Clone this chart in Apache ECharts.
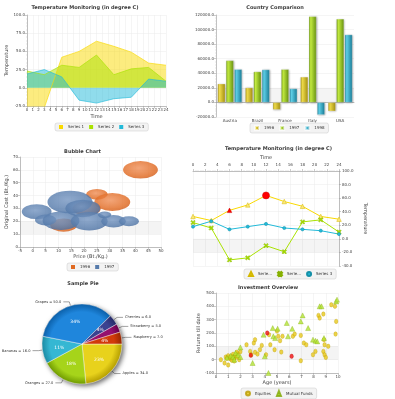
<!DOCTYPE html>
<html><head><meta charset="utf-8">
<script src="https://cdn.jsdelivr.net/npm/echarts@6/dist/echarts.min.js"></script>
<style>html,body{margin:0;padding:0;background:#fff;width:395px;height:399px;overflow:hidden}
.c{position:absolute;left:0;top:0;width:395px;height:399px}</style>
</head><body>
<div id="p1" class="c"></div><div id="p2" class="c"></div><div id="p3" class="c"></div>
<div id="p4" class="c"></div><div id="p5" class="c"></div><div id="p6" class="c"></div>
<script>
// ---------- DATA ----------
// Panel 1: area chart
const areaNames = ['Series 1','Series 2','Series 3'];
const areaX = [0,3,6,9,12,15,18,21,24];
const areaS1 = [-30,-27,42,50,64,57,49,34,31];
const areaS2 = [23,18,31,28,45,18,26,28,9];
const areaS3 = [19,25,15,-17,-21,-15,-13,12,9];
// Panel 2: bar chart
const countries = ['Austria','Brazil','France','Italy','USA'];
const barYears = ['1996','1997','1998'];
const bar1996 = [25600,20200,-9900,35000,-12000];
const bar1997 = [57500,42200,45400,118000,114600];
const bar1998 = [45400,45000,18900,-17000,93000];
// Panel 3: bubble chart [price, cost, radius]
const bubbleYears = ['1996','1997'];
const bubble1996 = [[42,60,6.8],[25,41,4.2],[31,35,7],[21,30,5.5],[12,17,5.2]];
const bubble1997 = [[1.5,27.5,5.8],[5,21,4.2],[14.5,35,8.8],[19.5,30,6.8],[11,20.5,7.2],[22,20,7.2],[28,25,2.6],[31.5,20,4.8],[37.5,20,3.9]];
// Panel 4: line chart
const lineNames = ['Series 1','Series 2','Series 3'];
const lineX = [0,3,6,9,12,15,18,21,24];
const lineS1 = [33,27,42,50,64,55,48,33,29];
const lineS2 = [24,16,-31,-28,-10,-19,25,28,10];
const lineS3 = [18,26,14,18,22,16,14,12,7];
// Panel 5: pie
const pieNames = ['Apples','Oranges','Bananas','Grapes','Cherries','Strawberry','Raspberry'];
const pieValues = [34,27,16,50,6,5,7];
// Panel 6: scatter
const equities = [[0.4,0],[0.7,-25],[0.8,20],[0.9,10],[1.0,-40],[1.0,30],[1.1,15],[1.2,5],[1.3,25],[1.4,40],[1.5,10],[1.5,-10],[1.6,30],[1.7,20],[1.8,45],[1.9,0],[2.0,60],[1.3,-5],[1.7,55],[2.5,112],[2.8,62],[2.9,37],[3.1,125],[3.2,150],[3.2,55],[3.4,42],[3.6,75],[3.75,107],[4.1,37],[4.35,187],[4.45,112],[4.8,75],[5.0,215],[5.1,175],[5.25,142],[5.35,57],[5.45,175],[6.3,175],[6.45,192],[6.95,182],[6.95,-8],[7.2,125],[7.4,112],[7.95,37],[8.15,62],[8.4,332],[8.5,312],[8.8,342],[8.85,150],[8.9,112],[8.8,62],[8.9,37],[9.0,17],[9.2,100],[9.45,412],[9.75,400],[9.85,287],[9.8,192]];
const equitiesRed = [[2.85,33],[4.2,200],[6.2,25]];
const mutualFunds = [[0.9,15],[1.2,30],[1.4,20],[1.6,50],[1.8,35],[2.0,92],[1.5,0],[2.0,20],[3.0,-25],[3.9,187],[4.0,25],[4.3,-100],[4.65,237],[4.7,175],[4.85,162],[5.05,232],[5.8,275],[5.9,175],[6.25,232],[6.95,287],[7.1,332],[7.55,237],[7.95,150],[8.15,142],[8.3,137],[8.5,400],[8.65,400],[8.85,162],[9.85,437],[9.92,450]];

// ---------- STYLE HELPERS ----------
const FONT = 'DejaVu Sans';
const C = ['#f9d900','#a9e200','#22bad9'];
function title(text, x, y){ return {text, left:x, top:y, textAlign:'center', padding:0,
  textStyle:{fontSize:5, fontWeight:'bold', color:'#3a3a3a', fontFamily:FONT}}; }
function legend(left, top, data, extra){ return Object.assign({left, top, data, orient:'horizontal',
  itemWidth:4, itemHeight:4, itemGap:5, padding:[2,4], backgroundColor:'#f3f3f3',
  borderColor:'#c9c9c9', borderWidth:0.5, borderRadius:2,
  textStyle:{fontSize:4, color:'#333', fontFamily:FONT}}, extra||{}); }
function vAxis(o){ return Object.assign({type:'value',
  axisLine:{show:true,onZero:false,lineStyle:{color:'#999',width:0.6}},
  axisTick:{show:true,length:2,lineStyle:{color:'#999',width:0.5}},
  minorTick:{show:true,splitNumber:5,length:1,lineStyle:{color:'#bbb',width:0.4}},
  axisLabel:{fontSize:4,color:'#444',margin:2,fontFamily:FONT},
  splitLine:{show:true,lineStyle:{color:'#ebebeb',width:0.5}},
  nameLocation:'middle',
  nameTextStyle:{fontSize:5,color:'#444',fontFamily:FONT}}, o); }
const band = (a,b)=>({silent:true, itemStyle:{color:'rgba(0,0,0,0.045)'},
  data:[[{yAxis:a},{yAxis:b}]]});

// ---------- PANEL 1: AREA ----------
echarts.init(document.getElementById('p1')).setOption({
  animation:false,
  title: title('Temperature Monitoring (in degree C)', 85, 5),
  legend: legend(55, 123, areaNames, {icon:'rect'}),
  grid:{left:27, top:15, width:139, height:91},
  xAxis: vAxis({min:0,max:24,interval:1,name:'Time',nameGap:8,minorTick:{show:false}}),
  yAxis: vAxis({min:-25,max:100,interval:25,name:'Temperature',nameGap:17,
    axisLabel:{fontSize:4,color:'#444',margin:2,fontFamily:FONT,formatter:v=>v.toFixed(1)}}),
  series:[areaS1,areaS2,areaS3].map((d,i)=>({name:areaNames[i], type:'line', symbol:'none',
    data: areaX.map((x,j)=>[x,d[j]]), itemStyle:{color:C[i]},
    lineStyle:{color:C[i],width:0.8,opacity:0.8}, areaStyle:{color:C[i],opacity:0.5}}))
});

// ---------- PANEL 2: BAR ----------
const barCols = [['#f0dc4a','#a28d10'],['#c4ec40','#668f10'],['#5fd0e8','#187a94']];
echarts.init(document.getElementById('p2')).setOption({
  animation:false,
  title: title('Country Comparison', 275, 5),
  legend: legend(250, 123, barYears, {icon:'rect'}),
  grid:{left:216, top:15, width:138, height:102},
  xAxis:{type:'category', data:countries,
    axisLine:{lineStyle:{color:'#999',width:0.6}}, axisTick:{alignWithLabel:true,length:2,lineStyle:{color:'#999',width:0.5}},
    axisLabel:{fontSize:4,color:'#444',margin:2,fontFamily:FONT}},
  yAxis: vAxis({min:-20000,max:120000,interval:20000,
    axisLabel:{fontSize:4,color:'#444',margin:2,fontFamily:FONT,formatter:v=>v.toFixed(1)}}),
  series:[bar1996,bar1997,bar1998].map((d,i)=>({name:barYears[i], type:'bar', data:d,
    barWidth:7.6, barGap:'10%',
    itemStyle:{color:{type:'linear',x:0,y:0,x2:1,y2:0,colorStops:[
      {offset:0,color:barCols[i][1]},{offset:0.25,color:barCols[i][0]},{offset:1,color:barCols[i][1]}]},
      borderColor:'rgba(255,255,255,0.6)', borderWidth:0.4,
      shadowBlur:2, shadowColor:'rgba(0,0,0,0.35)', shadowOffsetX:0.5, shadowOffsetY:0.5},
    markArea: i===0 ? band(0,20000) : undefined}))
});

// ---------- PANEL 3: BUBBLE ----------
const bubCols = [['#f0915a','#e06a22','#c8561a'],['#7797c2','#567bab','#44679a']];
function bubbleSeries(name, data, col){
  return {name, type:'custom', data, itemStyle:{color:col[1]}, clip:true, encode:{x:0,y:1},
    renderItem:(params, api)=>{
      const c = api.coord([api.value(0), api.value(1)]);
      const s = api.size([api.value(2), api.value(2)]);
      return {type:'circle', x:c[0], y:c[1], scaleX:s[0]/s[1], shape:{cx:0,cy:0,r:s[1]},
        style:{fill:{type:'radial',x:0.45,y:0.4,r:0.7,colorStops:[
          {offset:0,color:col[0]},{offset:0.7,color:col[1]},{offset:1,color:col[2]}]}, opacity:0.82}};
    }};
}
echarts.init(document.getElementById('p3')).setOption({
  animation:false,
  title: title('Bubble Chart', 82.5, 149),
  legend: legend(67, 263, bubbleYears, {icon:'rect'}),
  grid:{left:20, top:157, width:141, height:90},
  xAxis: vAxis({min:-5,max:50,interval:5,name:'Price (Bt./Kg.)',nameGap:7,minorTick:{show:false}}),
  yAxis: vAxis({min:0,max:70,interval:10,name:'Original Cost (Bt./Kg.)',nameGap:11,minorTick:{show:false}}),
  series:[
    Object.assign(bubbleSeries(bubbleYears[0], bubble1996, bubCols[0]), {markArea:band(10,20)}),
    bubbleSeries(bubbleYears[1], bubble1997, bubCols[1])
  ]
});

// ---------- PANEL 4: LINE ----------
const X_PATH = 'path://M0,2L2,0L5,3L8,0L10,2L7,5L10,8L8,10L5,7L2,10L0,8L3,5Z';
const lineSyms = ['triangle', X_PATH, 'circle'];
const lineFill = ['#fbe77a','#a9e200','#22bad9'];
const lineBorder = ['#d4b800','#86b000','#1590a8'];
echarts.init(document.getElementById('p4')).setOption({
  animation:false,
  title: title('Temperature Monitoring (in degree C)', 278.5, 146),
  legend: legend(244, 269, lineNames.map((n,i)=>({name:n, icon:lineSyms[i]})),
    {itemWidth:4,itemHeight:4, formatter:n=> n==='Series 3' ? n : 'Serie...'}),
  grid:{left:193, top:171, width:146, height:95},
  xAxis: vAxis({position:'top',min:0,max:24,interval:2,name:'Time',nameGap:11,
    axisLabel:{fontSize:4,color:'#444',margin:4,fontFamily:FONT}}),
  yAxis: vAxis({position:'right',min:-40,max:100,interval:20,name:'Temperature',nameGap:24,nameRotate:-90,
    axisLabel:{fontSize:4,color:'#444',margin:3,fontFamily:FONT,formatter:v=>v.toFixed(1)}}),
  series:[lineS1,lineS2,lineS3].map((d,i)=>({name:lineNames[i], type:'line',
    symbol:lineSyms[i], symbolSize: i===2 ? 3.2 : 4.5,
    itemStyle:{color:lineFill[i], borderColor:lineBorder[i], borderWidth:0.5},
    lineStyle:{color:C[i], width:1},
    data: lineX.map((x,j)=>{
      if(i===0 && j===2) return {value:[x,d[j]], itemStyle:{color:'#f00',borderColor:'#c00'}};
      if(i===0 && j===4) return {value:[x,d[j]], symbol:'circle', symbolSize:7, itemStyle:{color:'#f00',borderColor:'#c00'}};
      return [x,d[j]];
    }),
    markArea: i===0 ? band(-20,0) : undefined}))
});

// ---------- PANEL 5: PIE ----------
const pieCols = [['#e8d21c','#b39d00'],['#a6d41a','#6f9a00'],['#35b7d3','#1a8aa3'],['#1f86dc','#0b5fa8'],['#3b4290','#252a66'],['#95106e','#66004a'],['#d23a0a','#962600']];
const PC = [82,344], PR = 40;
const pieData = pieNames.map((n,i)=>({name:n, value:pieValues[i],
  itemStyle:{color:{type:'radial',x:PC[0],y:PC[1],r:PR,global:true,colorStops:[
    {offset:0,color:pieCols[i][0]},{offset:0.8,color:pieCols[i][0]},{offset:1,color:pieCols[i][1]}]}}}));
echarts.init(document.getElementById('p5')).setOption({
  animation:false,
  title: title('Sample Pie', 83, 281),
  series:[
    {type:'pie', center:PC, radius:PR, silent:true, data:[{value:1,name:''}],
      itemStyle:{color:'#888', shadowBlur:5, shadowColor:'rgba(0,0,0,0.6)', shadowOffsetX:2, shadowOffsetY:2},
      label:{show:false}, labelLine:{show:false}},
    {type:'pie', center:PC, radius:PR, startAngle:0, clockwise:true, data:pieData,
      itemStyle:{borderColor:'rgba(255,255,255,0.85)', borderWidth:0.5},
      label:{position:'outside', formatter:p=>p.name+' = '+p.value.toFixed(1), fontSize:3.6, color:'#333',
        fontFamily:FONT, overflow:'none', distanceToLabelLine:2},
      labelLine:{show:true, length:4, length2:6, lineStyle:{color:'#444', width:0.5}}},
    {type:'pie', center:PC, radius:PR, startAngle:0, clockwise:true, silent:true,
      data: pieNames.map((n,i)=>({name:n, value:pieValues[i]})),
      itemStyle:{color:'rgba(0,0,0,0)', borderWidth:0},
      label:{position:'inside', formatter:p=>Math.floor(p.percent)+'%', fontSize:4.5, color:'#fff', fontFamily:FONT},
      labelLine:{show:false}}
  ]
});

// ---------- PANEL 6: SCATTER ----------
echarts.init(document.getElementById('p6')).setOption({
  animation:false,
  title: title('Investment Overview', 268, 285),
  legend: legend(241, 388, [{name:'Equities',icon:'circle'},{name:'Mutual Funds',icon:'triangle'}], {itemWidth:4,itemHeight:5}),
  grid:{left:216, top:293, width:122, height:80},
  xAxis: vAxis({min:0,max:10,interval:1,name:'Age (years)',nameGap:6,minorTick:{show:false}}),
  yAxis: vAxis({min:-100,max:500,interval:100,name:'Returns till date',nameGap:12,minorTick:{show:false}}),
  series:[
    {name:'Equities', type:'scatter', symbol:'circle', symbolSize:[3.5,4.5],
      itemStyle:{color:'#e9c81c', borderColor:'#b89a00', borderWidth:0.4},
      data: equities.concat(equitiesRed.map(p=>({value:p, itemStyle:{color:'#f01010',borderColor:'#b00'}}))),
      markArea: band(0,100)},
    {name:'Mutual Funds', type:'scatter', symbol:'triangle', symbolSize:5,
      itemStyle:{color:'#b2e233', borderColor:'#7ea600', borderWidth:0.4}, data: mutualFunds}
  ]
});
</script></body></html>
